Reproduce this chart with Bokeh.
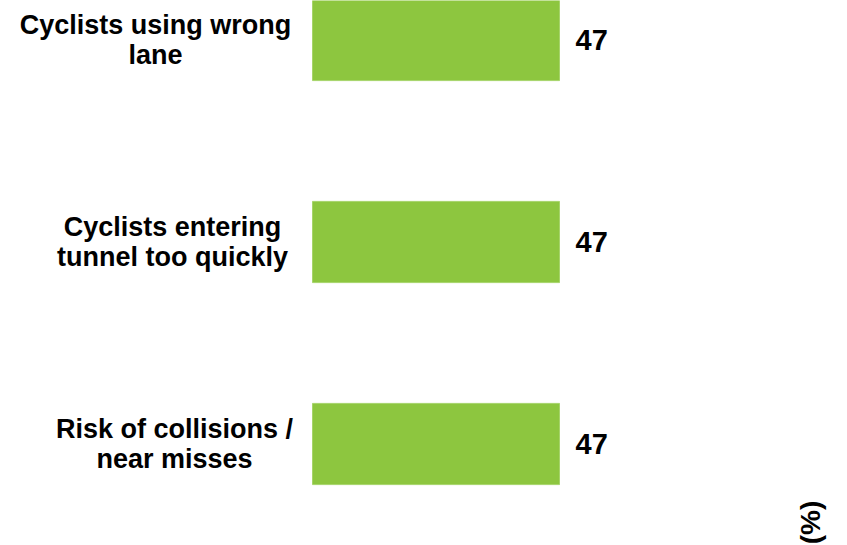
from bokeh.plotting import figure
from bokeh.models import Range1d, ColumnDataSource
from bokeh.core.properties import value
from bokeh.embed import file_html
from bokeh.resources import INLINE

categories = ["Cyclists using wrong\nlane",
              "Cyclists entering\ntunnel too quickly",
              "Risk of collisions /\nnear misses"]
values = [47, 47, 47]
value_labels = [str(v) for v in values]
unit_label = "(%)"

W, H = 847, 545
# horizontal scale: value 0 at x=312px, 47 at x=559px
px_per_unit = 247 / 47.0
x0_px = 312
x_start = -x0_px / px_per_unit
x_end = (W - x0_px) / px_per_unit
# vertical: category spacing 202px, first centre at 39.5px from top
band = 202.0
y_top = -39.5 / band
y_bottom = y_top + H / band

# layout: centre of each (right-aligned) label block, in pixels
label_centre_px = [155, 172, 174]

ypos = list(range(len(categories)))
src = ColumnDataSource(dict(y=ypos, v=values, cat=categories, lab=value_labels,
                            zero=[0] * len(values),
                            lx=[(c - x0_px) / px_per_unit for c in label_centre_px]))

p = figure(width=W, height=H, output_backend="svg", toolbar_location=None,
           x_range=Range1d(x_start, x_end), y_range=Range1d(y_bottom, y_top),
           min_border=0, outline_line_color=None)
p.axis.visible = False
p.grid.visible = False
p.background_fill_color = "white"
p.border_fill_color = "white"

p.hbar(y="y", left="zero", right="v", height=0.402, source=src,
       fill_color="#8DC63F", line_color="#A6D46A", line_width=1)

p.text(x="lx", y="y", text="cat", source=src, text_align="center",
       text_baseline="middle", text_font=value("Liberation Sans"),
       text_font_style="bold", text_font_size="27px", text_color="black",
       text_line_height=0.98)

p.text(x="v", y="y", text="lab", source=src, x_offset=16, text_align="left",
       text_baseline="middle", text_font=value("Liberation Sans"),
       text_font_style="bold", text_font_size="29px", text_color="black")

p.text(x=[(810 - x0_px) / px_per_unit], y=[y_top + 522 / band], text=[unit_label],
       angle=1.5708, text_align="center", text_baseline="middle",
       text_font=value("Liberation Sans"), text_font_style="bold",
       text_font_size="28px", text_color="black")

open("out.html", "w").write(file_html(p, INLINE))
